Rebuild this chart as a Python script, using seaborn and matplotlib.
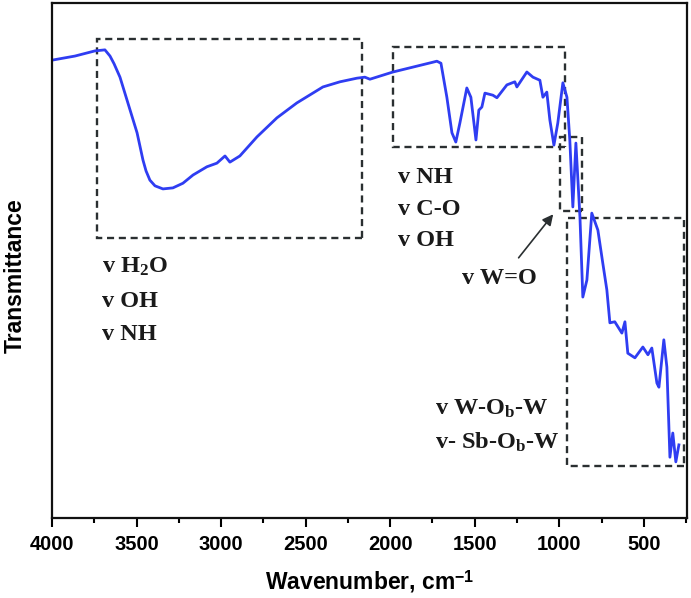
import seaborn as sns
import matplotlib.pyplot as plt
from matplotlib.ticker import MultipleLocator
from matplotlib.patches import Rectangle
import pandas as pd

# FTIR spectrum (wavenumber in cm-1, transmittance in arbitrary units)
wavenumber = [4000, 3864, 3746, 3687, 3657, 3633, 3598, 3497, 3462, 3444,
              3421, 3391, 3344, 3285, 3226, 3166, 3084,
              3025, 2977, 2948, 2889, 2788, 2670, 2552, 2398, 2297, 2197,
              2150, 2120, 1984, 1748, 1724, 1700, 1665, 1635, 1612, 1588,
              1547, 1523, 1493, 1476, 1458, 1440, 1393, 1369, 1310, 1263,
              1251, 1192, 1156, 1115, 1097, 1074, 1056, 1032, 1009, 979,
              955, 938, 920, 902, 878, 861, 837, 808, 772, 743,
              719, 701, 672, 630, 612, 595, 553, 506, 476, 453,
              423, 411, 382, 364, 346, 329, 311, 293]
transmittance = [88.9, 89.7, 90.7, 90.9, 89.7, 88.2, 85.6, 74.8, 69.5, 67.4,
                 65.6, 64.5, 63.9, 64.1, 65.0, 66.6, 68.2,
                 68.9, 70.3, 69.1, 70.3, 74.0, 77.7, 80.6, 83.7, 84.7, 85.4,
                 85.6, 85.2, 86.6, 88.5, 88.7, 88.3, 81.7, 74.8, 73.0, 76.7,
                 83.5, 81.7, 73.4, 79.2, 79.8, 82.5, 82.1, 81.6, 84.1, 84.7,
                 83.7, 86.6, 85.6, 85.0, 81.7, 82.7, 77.3, 72.4, 76.7, 84.5,
                 81.7, 73.4, 60.4, 72.8, 58.4, 42.9, 46.2, 59.2, 55.9, 49.5,
                 44.3, 37.9, 38.1, 35.9, 38.1, 32.0, 31.1, 33.2, 31.7, 33.0,
                 26.2, 25.4, 34.6, 29.3, 11.8, 16.5, 10.9, 14.2]

# dashed regions: (wn_high, wn_low, T_low, T_high)
boxes = [(3734, 2167, 54.4, 93.0),
         (1984, 967, 72.0, 91.5),
         (997, 867, 59.6, 74.0),
         (955, 264, 10.1, 58.3)]

# band assignments: (x, y, text)
labels = [(3704, 47.6, r'v H$_2$O'),
          (3704, 41.0, 'v OH'),
          (3704, 34.6, 'v NH'),
          (1954, 65.0, 'v NH'),
          (1954, 58.8, 'v C-O'),
          (1954, 52.8, 'v OH'),
          (1576, 45.4, 'v W=O'),
          (1736, 20.0, r'v W-O$_\mathrm{b}$-W'),
          (1736, 13.4, r'v- Sb-O$_\mathrm{b}$-W')]

plt.rcParams['font.family'] = ['Liberation Sans', 'DejaVu Sans']
plt.rcParams['mathtext.fontset'] = 'custom'
plt.rcParams['mathtext.rm'] = 'Liberation Serif:bold'
plt.rcParams['mathtext.it'] = 'Liberation Serif:bold'
plt.rcParams['mathtext.bf'] = 'Liberation Serif:bold'
plt.rcParams['mathtext.sf'] = 'Liberation Sans:bold'

df = pd.DataFrame({'wn': wavenumber, 'T': transmittance})

fig = plt.figure(figsize=(6.91, 5.98), dpi=100)
ax = fig.add_axes([52 / 691, 80 / 598, 635 / 691, 515 / 598])

sns.lineplot(data=df, x='wn', y='T', sort=False, estimator=None,
             color='#2f3df2', linewidth=2.0, ax=ax)

dark = '#2a2f31'
for x0, x1, y0, y1 in boxes:
    ax.add_patch(Rectangle((x1, y0), x0 - x1, y1 - y0, fill=False,
                           edgecolor=dark, linewidth=1.7, linestyle=(0, (3, 2))))

for x, y, s in labels:
    ax.text(x, y, s, family='Liberation Serif', weight='bold', fontsize=17.5,
            color='#1a1a1a', ha='left', va='baseline')

ax.annotate('', xy=(1026, 59.4), xytext=(1251, 50.1),
            arrowprops=dict(arrowstyle='-|>', color=dark, lw=1.2, mutation_scale=16))

ax.set_xlim(4000, 245)
ax.set_ylim(0, 100)
ax.xaxis.set_major_locator(MultipleLocator(500))
ax.xaxis.set_minor_locator(MultipleLocator(250))
ax.set_yticks([])
ax.tick_params(axis='x', which='major', direction='out', length=6.5, width=1.5,
               labelsize=14.5, pad=6)
ax.tick_params(axis='x', which='minor', direction='out', length=3.6, width=1.5)
for t in ax.get_xticklabels():
    t.set_fontweight('bold')
for sp in ax.spines.values():
    sp.set_linewidth(1.6)
    sp.set_color('#111111')

ax.set_xlabel(r'Wavenumber, cm$^{\mathsf{-1}}$', fontsize=16.5, fontweight='bold',
              labelpad=10)
ax.set_ylabel('Transmittance', fontsize=16.5, fontweight='bold')
ax.yaxis.set_label_coords(-0.039, 0.471)

fig.savefig('out.png', dpi=100)
